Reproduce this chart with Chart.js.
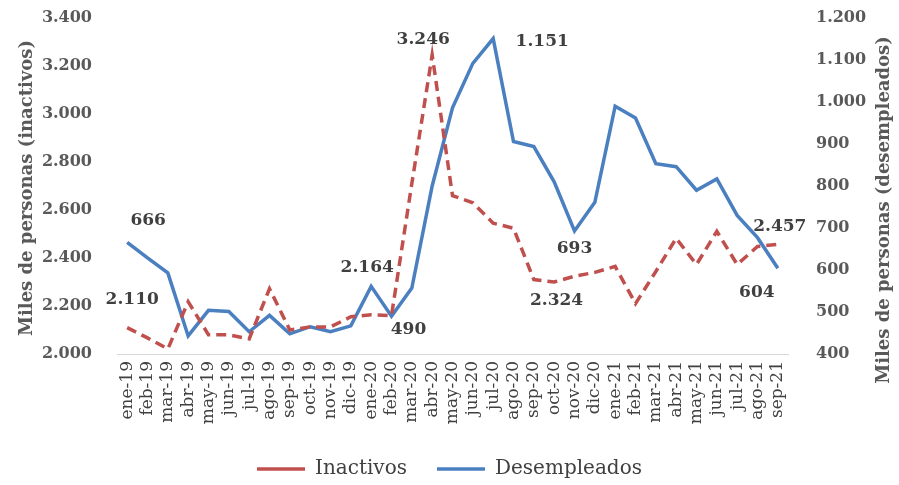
<!DOCTYPE html>
<html>
<head>
<meta charset="utf-8">
<script src="https://cdn.jsdelivr.net/npm/chart.js@4.4.1/dist/chart.umd.min.js"></script>
<style>
  html, body { margin: 0; padding: 0; background: #fff; }
  #wrap { width: 899px; height: 485px; position: relative; }
</style>
</head>
<body>
<div id="wrap"><canvas id="chart"></canvas></div>
<script>
// months ene-19 .. sep-21
const months = ['ene-19','feb-19','mar-19','abr-19','may-19','jun-19','jul-19','ago-19','sep-19','oct-19','nov-19','dic-19',
  'ene-20','feb-20','mar-20','abr-20','may-20','jun-20','jul-20','ago-20','sep-20','oct-20','nov-20','dic-20',
  'ene-21','feb-21','mar-21','abr-21','may-21','jun-21','jul-21','ago-21','sep-21'];

// miles de personas, left axis
const inactivos = [2110, 2067, 2021, 2218, 2080, 2080, 2063, 2272, 2100, 2113, 2113, 2155,
  2164, 2160, 2710, 3246, 2660, 2630, 2545, 2524, 2310, 2300, 2324, 2340,
  2365, 2210, 2344, 2482, 2373, 2511, 2373, 2448, 2457];

// miles de personas, right axis
const desempleados = [666, 629, 593, 443, 504, 501, 453, 492, 448, 465, 453, 467,
  561, 490, 557, 800, 986, 1092, 1151, 906, 894, 810, 693, 761,
  990, 962, 853, 846, 790, 817, 730, 677, 604];

const leftTicks = [2000, 2200, 2400, 2600, 2800, 3000, 3200, 3400];
const rightTicks = [400, 500, 600, 700, 800, 900, 1000, 1100, 1200];

// points that carry a value label: [index, dx, dy]
const inactivosLabelled = [[0, 5, -28], [12, -4, -47], [15, -9, -15], [22, -18, 24], [32, 2, -18]];
const desempleadosLabelled = [[0, 21, -22], [13, 17, 13], [18, 49, 3], [22, 0, 18], [32, -21, 24]];

const fmt = v => Math.round(v).toString().replace(/\B(?=(\d{3})+(?!\d))/g, '.');

const RED = '#c0504d';
const BLUE = '#4a7fc0';
const GREY = '#595959';
const SERIF = "'DejaVu Serif', serif";

const valueLabels = {
  id: 'valueLabels',
  afterDatasetsDraw(chart) {
    const ctx = chart.ctx;
    ctx.save();
    ctx.font = `bold 17px ${SERIF}`;
    ctx.fillStyle = '#404040';
    ctx.textAlign = 'center';
    ctx.textBaseline = 'middle';
    [[0, inactivosLabelled], [1, desempleadosLabelled]].forEach(([di, list]) => {
      const meta = chart.getDatasetMeta(di);
      const data = chart.data.datasets[di].data;
      list.forEach(([i, dx, dy]) => {
        const p = meta.data[i];
        ctx.fillText(fmt(data[i]), p.x + dx, p.y + dy);
      });
    });
    ctx.restore();
  }
};

// both axis titles read bottom-to-top in the original
const axisTitles = {
  id: 'axisTitles',
  afterDraw(chart) {
    const ctx = chart.ctx;
    const draw = (text, x, y) => {
      ctx.save();
      ctx.translate(x, y);
      ctx.rotate(-Math.PI / 2);
      ctx.font = `bold 18px ${SERIF}`;
      ctx.fillStyle = GREY;
      ctx.textAlign = 'center';
      ctx.textBaseline = 'middle';
      ctx.fillText(text, 0, 0);
      ctx.restore();
    };
    draw('Miles de personas (inactivos)', 27, 188);
    draw('Miles de personas (desempleados)', 884, 210);
  }
};

const noPad = s => { s.paddingTop = 0; s.paddingBottom = 0; };

new Chart(document.getElementById('chart'), {
  type: 'line',
  data: {
    labels: months,
    datasets: [{
      label: 'Inactivos',
      data: inactivos,
      yAxisID: 'y',
      borderColor: RED,
      backgroundColor: RED,
      borderWidth: 3.5,
      borderDash: [10, 6],
      pointRadius: 0,
      tension: 0
    }, {
      label: 'Desempleados',
      data: desempleados,
      yAxisID: 'y1',
      borderColor: BLUE,
      backgroundColor: BLUE,
      borderWidth: 3.5,
      pointRadius: 0,
      tension: 0
    }]
  },
  options: {
    responsive: true,
    maintainAspectRatio: false,
    animation: false,
    layout: { padding: { top: 18, left: 0, right: 0, bottom: -4 } },
    plugins: {
      legend: {
        position: 'bottom',
        labels: {
          usePointStyle: true,
          pointStyle: 'line',
          pointStyleWidth: 48,
          padding: 30,
          color: '#404040',
          font: { family: SERIF, size: 20 }
        }
      },
      tooltip: { enabled: false }
    },
    scales: {
      x: {
        offset: true,
        grid: { display: false, drawTicks: true, tickLength: 5, color: '#d9d9d9' },
        border: { color: '#d9d9d9' },
        ticks: {
          minRotation: 90, maxRotation: 90, autoSkip: false,
          padding: 2,
          color: '#404040',
          font: { family: SERIF, size: 17 }
        },
        afterFit: s => { s.height = 75; }
      },
      y: {
        position: 'left',
        min: 2000, max: 3400,
        afterBuildTicks: s => { s.ticks = leftTicks.map(v => ({ value: v })); },
        grid: { display: false },
        border: { display: false },
        ticks: {
          color: GREY,
          padding: 17,
          font: { family: SERIF, size: 16, weight: 'bold' },
          callback: v => fmt(v)
        },
        afterFit: s => { s.width = 117; noPad(s); }
      },
      y1: {
        position: 'right',
        min: 400, max: 1200,
        afterBuildTicks: s => { s.ticks = rightTicks.map(v => ({ value: v })); },
        grid: { display: false },
        border: { display: false },
        ticks: {
          color: GREY,
          padding: 20,
          font: { family: SERIF, size: 16, weight: 'bold' },
          callback: v => fmt(v)
        },
        afterFit: s => { s.width = 111; noPad(s); }
      }
    }
  },
  plugins: [valueLabels, axisTitles]
});
</script>
</body>
</html>
